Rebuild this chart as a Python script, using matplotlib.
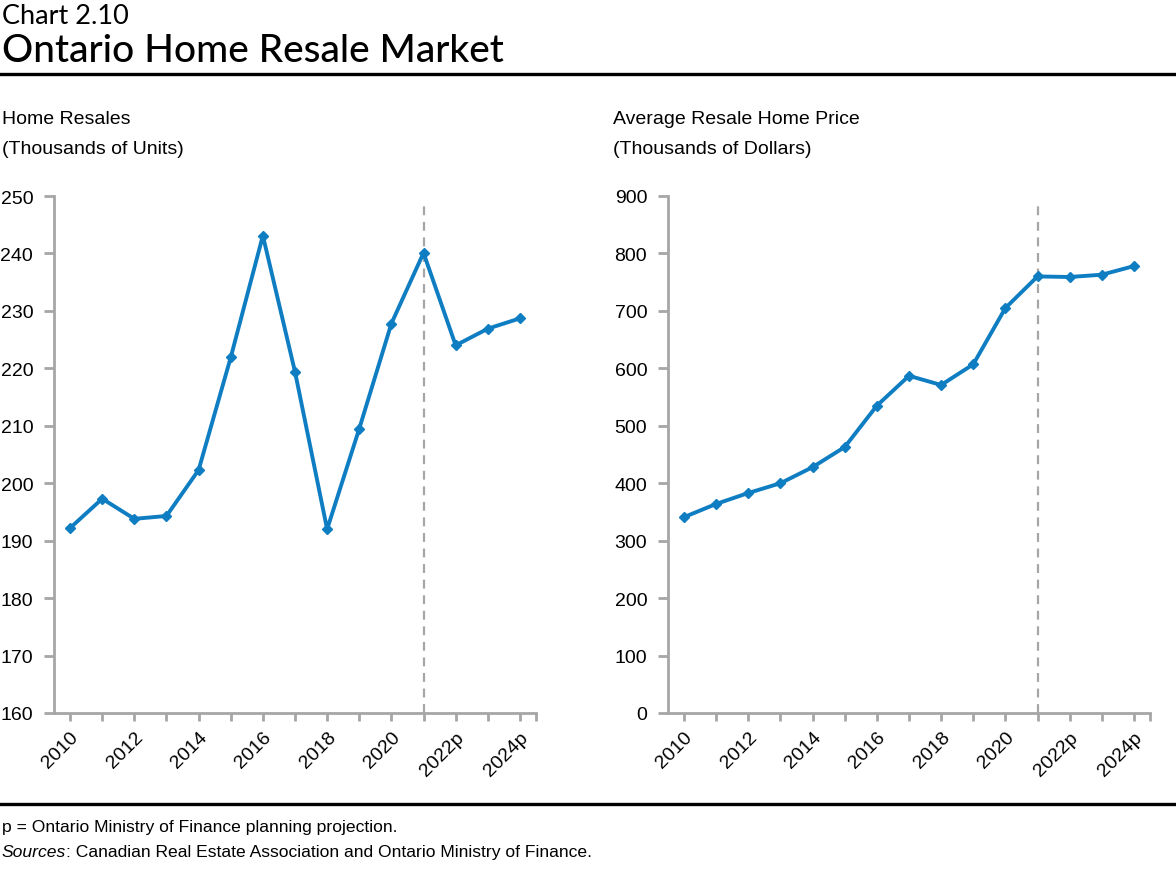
import matplotlib
matplotlib.use("Agg")
import matplotlib.pyplot as plt
from matplotlib.lines import Line2D

# data
years = ["2010", "2011", "2012", "2013", "2014", "2015", "2016", "2017",
         "2018", "2019", "2020", "2021", "2022p", "2023p", "2024p"]
resales = [192.2, 197.3, 193.8, 194.3, 202.3, 221.9, 243.1, 219.4,
           192.0, 209.5, 227.8, 240.1, 224.0, 226.9, 228.7]
prices = [341, 364, 383, 400, 428, 463, 535, 587,
          571, 607, 705, 760, 759, 763, 778]
proj_start = 11  # index of 2021, where the dashed line sits

W, H = 1176, 870
BLUE = "#0F7DC2"
GREY = "#A6A6A6"
body = ["Liberation Sans", "DejaVu Sans"]
head = ["Lato", "DejaVu Sans"]

fig = plt.figure(figsize=(W / 100, H / 100), dpi=100)


def px_axes(x0, y0, x1, y1):
    return fig.add_axes([x0 / W, 1 - y1 / H, (x1 - x0) / W, (y1 - y0) / H])


def draw_panel(ax, values, ymin, ymax, step, title1, title2, tx):
    x = list(range(len(years)))
    ax.plot(x, values, color=BLUE, lw=2.8, marker="D", ms=5.5,
            mfc=BLUE, mec=BLUE, zorder=3)
    ax.axvline(proj_start, color=GREY, lw=1.6, ls=(0, (4, 3)), ymax=0.99, zorder=2)
    ax.set_xlim(-0.5, len(years) - 0.5)
    ax.set_ylim(ymin, ymax)
    ax.set_yticks(range(ymin, ymax + 1, step))
    ax.set_xticks(x)
    ax.set_xticklabels([y if i % 2 == 0 else "" for i, y in enumerate(years)],
                       rotation=45, ha="right", rotation_mode="anchor")
    ax.set_xticks([len(years) - 0.5], minor=True)
    for s in ["top", "right"]:
        ax.spines[s].set_visible(False)
    for s in ["left", "bottom"]:
        ax.spines[s].set_color(GREY)
        ax.spines[s].set_linewidth(2)
    ax.tick_params(axis="both", which="both", color=GREY, width=2, length=7,
                   labelsize=14, labelcolor="black")
    ax.tick_params(axis="x", which="both", length=6, pad=5)
    ax.tick_params(axis="y", pad=8)
    for lab in ax.get_xticklabels() + ax.get_yticklabels():
        lab.set_family(body)
    fig.text(tx / W, 1 - 120 / H, title1, family=body, fontsize=14,
             va="center", ha="left")
    fig.text(tx / W, 1 - 150 / H, title2, family=body, fontsize=14,
             va="center", ha="left")


ax1 = px_axes(54, 197, 536, 714)
draw_panel(ax1, resales, 160, 250, 10, "Home Resales", "(Thousands of Units)", 2)
ax2 = px_axes(668, 197, 1150, 714)
draw_panel(ax2, prices, 0, 900, 100, "Average Resale Home Price",
           "(Thousands of Dollars)", 613)

# heading
fig.text(2 / W, 1 - 17 / H, "Chart 2.10", family=head, fontsize=19.5,
         va="center", ha="left")
fig.text(2 / W, 1 - 52 / H, "Ontario Home Resale Market", family=head,
         fontsize=28, va="center", ha="left", weight="medium")
fig.add_artist(Line2D([0, 1], [1 - 75 / H, 1 - 75 / H], color="black", lw=2.4,
                      transform=fig.transFigure))
fig.add_artist(Line2D([0, 1], [1 - 805 / H, 1 - 805 / H], color="black", lw=2.4,
                      transform=fig.transFigure))

# footnotes
fig.text(2 / W, 1 - 828 / H, "p = Ontario Ministry of Finance planning projection.",
         family=body, fontsize=12.6, va="center", ha="left")
src = fig.text(2 / W, 1 - 853 / H, "Sources", family=body, fontsize=12.6,
               style="italic", va="center", ha="left")
r = fig.canvas.get_renderer()
bb = src.get_window_extent(renderer=r)
fig.text(bb.x1 / W, 1 - 853 / H,
         ": Canadian Real Estate Association and Ontario Ministry of Finance.",
         family=body, fontsize=12.6, va="center", ha="left")

fig.savefig("out.png", dpi=100)
